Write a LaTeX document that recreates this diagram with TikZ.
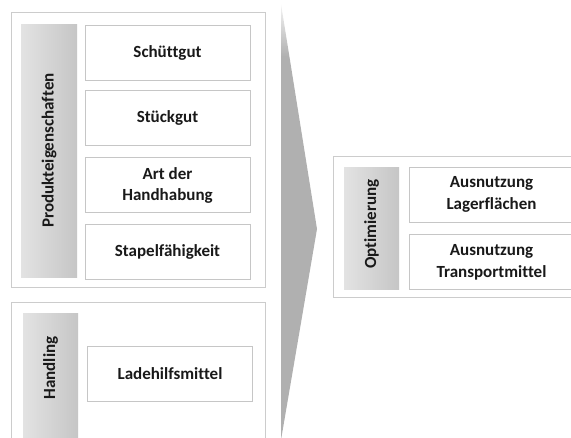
\documentclass[tikz,border=0pt]{standalone}
\usepackage{fontspec}
\setmainfont{Carlito}[Ligatures=NoCommon]
\usepackage{tikz}
\usetikzlibrary{positioning}

% chevron: flat grey, fading out towards its top
\pgfdeclareverticalshading{chevronfade}{100bp}{%
  color(0bp)=(gray!62); color(25bp)=(gray!62); color(69bp)=(gray!62);
  color(75bp)=(gray!8); color(100bp)=(gray!8)}

\begin{document}
\begin{tikzpicture}[
  x=1pt, y=-1pt,
  every node/.style = {font=\bfseries\fontsize{17}{21.5}\selectfont, text=black!90},
  frame/.style      = {draw=gray!40, line width=0.9pt, fill=white, inner sep=0pt},
  item/.style       = {draw=gray!45, line width=0.9pt, fill=white, inner sep=0pt,
                       minimum width=165pt, minimum height=55pt, align=center},
  bar/.style        = {left color=gray!22, right color=gray!45, inner sep=0pt},
  caption/.style    = {rotate=90, inner sep=0pt},
]

%% ── Page: 571 x 437 ───────────────────────────────────────────────────────
\clip (0,0) rectangle (571,437);

% ── Chevron in the middle ────────────────────────────────────────────────
\shade[shading=chevronfade] (281,4) -- (317,229) -- (281,440) -- cycle;

% ── Product properties ───────────────────────────────────────────────────
\node[frame, minimum width=254pt, minimum height=275pt] (prodframe) at (138,149.5) {};
\node[bar, minimum width=56pt, minimum height=253pt] (prodbar) at (49,150.5) {};
\node[caption] (prodlabel) at (prodbar) {Produkteigenschaften};

\node[item] (schuett) at (167.5,52.5) {Schüttgut};
\node[item, below=10pt of schuett] (stueck) {Stückgut};
\node[item, below=11pt of stueck] (art) {Art der\\Handhabung};
\node[item, below=11pt of art] (stapel) {Stapelfähigkeit};

% ── Handling ─────────────────────────────────────────────────────────────
\node[frame, minimum width=254pt, minimum height=160pt] (handframe) at (138,382) {};
\node[bar, minimum width=55pt, minimum height=140pt] (handbar) at (50.5,383) {};
\node[caption] (handlabel) at (50.5,368) {Handling};
\node[item] (lade) at (170,373.5) {Ladehilfsmittel};

% ── Optimisation (cut at the right edge) ─────────────────────────────────
\node[frame, minimum width=280pt, minimum height=141pt] (optframe) at (473,226.5) {};
\node[bar, minimum width=55pt, minimum height=122pt] (optbar) at (371.5,228) {};
\node[caption] (optlabel) at (371.5,224) {Optimierung};

\node[item] (lager) at (491.5,194.5) {Ausnutzung\\Lagerflächen};
\node[item, below=12pt of lager] (transp) {Ausnutzung\\Transportmittel};

\end{tikzpicture}
\end{document}
